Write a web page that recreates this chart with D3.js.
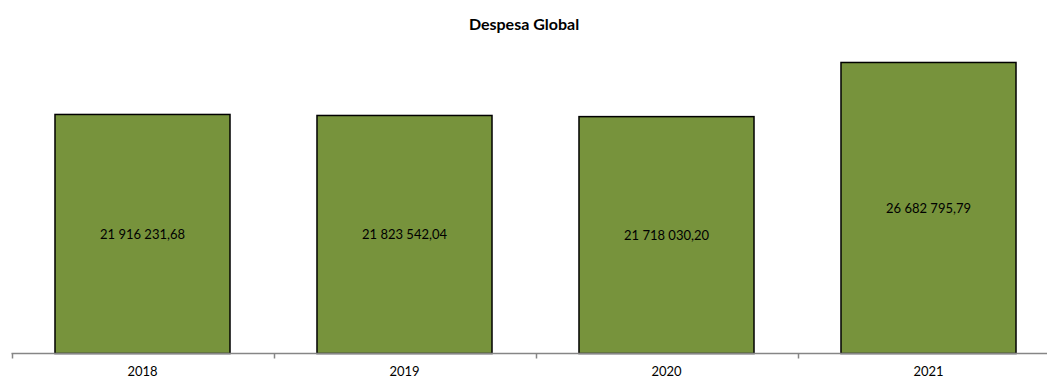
<!DOCTYPE html>
<html><head><meta charset="utf-8">
<script src="https://cdn.jsdelivr.net/npm/d3@7"></script>
<style>
html,body{margin:0;padding:0;background:#fff;overflow:hidden}
text{font-family:Lato,"Open Sans",sans-serif}
</style></head>
<body>
<svg id="chart" width="1047" height="378"></svg>
<script>
const categories = ["2018", "2019", "2020", "2021"];
const values = [21916231.68, 21823542.04, 21718030.20, 26682795.79];
const valueLabels = ["21 916 231,68", "21 823 542,04", "21 718 030,20", "26 682 795,79"];
const title = "Despesa Global";

const svg = d3.select("#chart");
const baseY = 353.5;
const x = d3.scaleBand().domain(categories).range([11.5, 1059.5]).paddingInner(0.332).paddingOuter(0.166);
const y = d3.scaleLinear().domain([0, 30000000]).range([baseY, 26.3]);

svg.append("text").attr("x", 524).attr("y", 30).attr("text-anchor", "middle")
  .attr("font-weight", "bold").attr("font-size", 16).attr("fill", "#000").text(title);

const g = svg.append("g");
g.selectAll("rect.bar").data(categories).join("rect").attr("class","bar")
  .attr("x", d => x(d)).attr("width", x.bandwidth())
  .attr("y", (d,i) => y(values[i])).attr("height", (d,i) => baseY - y(values[i]))
  .attr("fill", "#77933C").attr("stroke", "#000").attr("stroke-width", 1.5);

g.selectAll("text.val").data(categories).join("text").attr("class","val")
  .attr("x", d => x(d) + x.bandwidth()/2)
  .attr("y", (d,i) => (y(values[i]) + baseY)/2 + 5)
  .attr("text-anchor","middle").attr("font-size", 13).attr("fill","#000")
  .text((d,i) => valueLabels[i]);

// axis
const step = x.step();
const axisG = svg.append("g").attr("transform", `translate(0,${baseY})`);
axisG.append("line").attr("x1", 11.5).attr("x2", 1059.5).attr("y1",0).attr("y2",0)
  .attr("stroke","#868686").attr("stroke-width",1.5);
const tickPos = d3.range(categories.length + 1).map(i => 11.5 + i*step);
axisG.selectAll("line.tick").data(tickPos).join("line").attr("class","tick")
  .attr("x1", d=>Math.round(d)+0.5).attr("x2", d=>Math.round(d)+0.5).attr("y1",0).attr("y2",5)
  .attr("stroke","#868686").attr("stroke-width",1.5);
axisG.selectAll("text.cat").data(categories).join("text").attr("class","cat")
  .attr("x", d => x(d) + x.bandwidth()/2).attr("y", 22.5)
  .attr("text-anchor","middle").attr("font-size",13).attr("fill","#000").text(d=>d);
</script>
</body></html>
